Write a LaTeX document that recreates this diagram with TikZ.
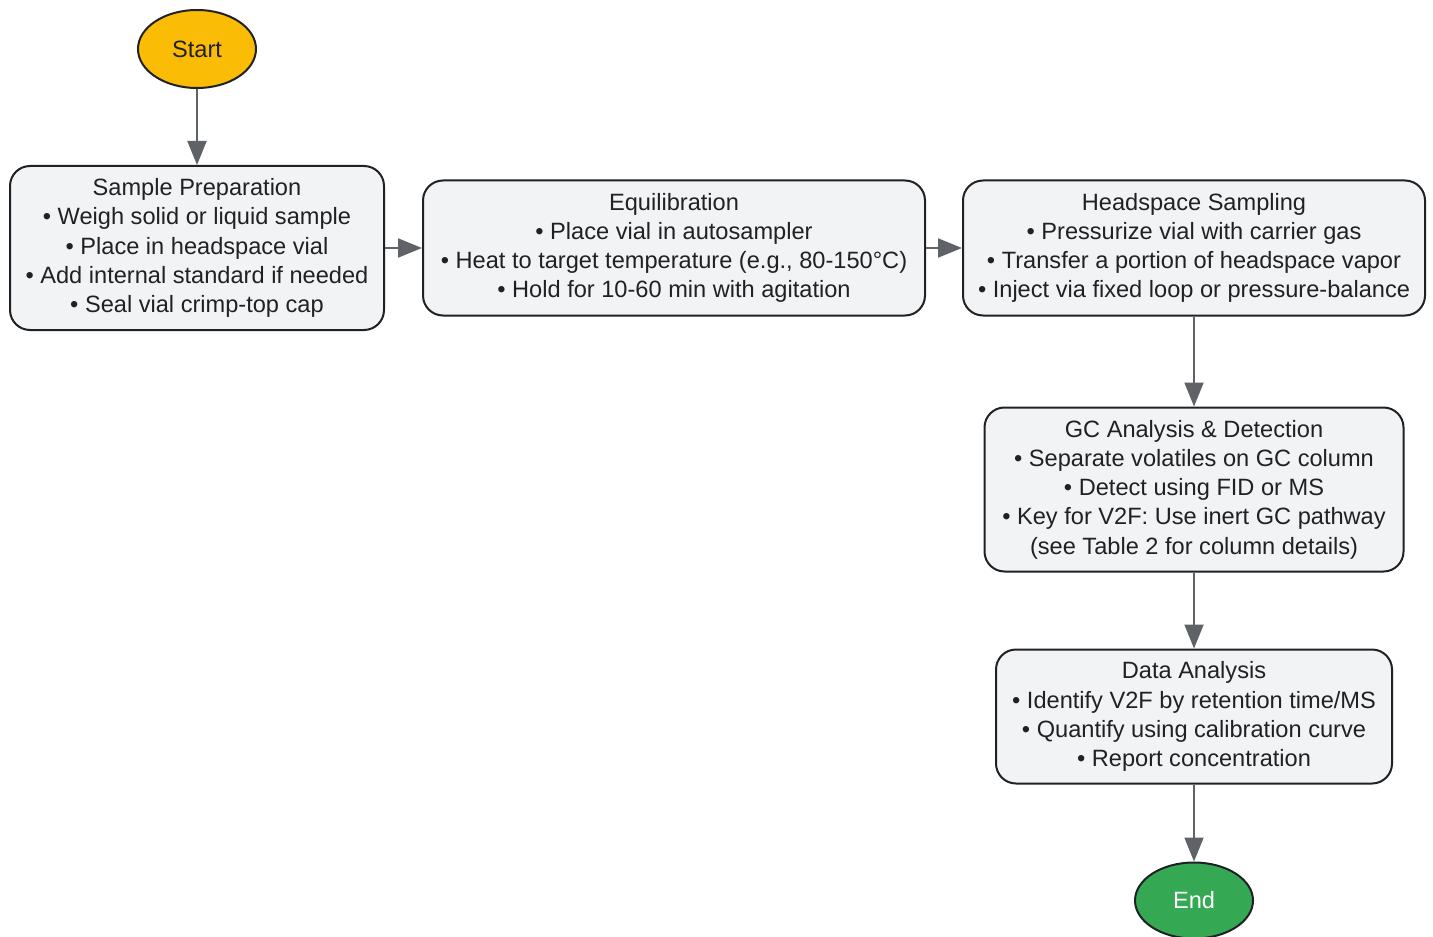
\documentclass[tikz,border=0pt]{standalone}
\usepackage{fontspec}
\setmainfont{Liberation Sans}
\usetikzlibrary{positioning,shapes.geometric,arrows.meta}
\definecolor{boxfill}{HTML}{F1F3F4}
\definecolor{inkline}{HTML}{202124}
\definecolor{flowgray}{HTML}{5F6368}
\definecolor{startfill}{HTML}{FBBC05}
\definecolor{endfill}{HTML}{34A853}

\begin{document}
\begin{tikzpicture}[
				x=0.5pt, y=-0.5pt,
				font=\fontsize{11.8}{14.6}\selectfont,
				stagebox/.style = {draw=inkline, line width=1pt, fill=boxfill, text=inkline,
					rounded corners=10pt, align=center, inner sep=0pt},
				term/.style = {draw=inkline, line width=1pt, ellipse, inner sep=0pt,
					minimum width=59pt, minimum height=39pt},
				flow/.style = {draw=flowgray, line width=1pt,
					-{Triangle[length=12pt, width=9.5pt]}}
			]
			\useasboundingbox (0,0) rectangle (1433,936);
			\node[stagebox, minimum width=187pt, minimum height=82pt] (prep) at (197,248)
				{Sample Preparation\\ \textbullet{} Weigh solid or liquid sample\\ \textbullet{} Place in headspace vial\\ \textbullet{} Add internal standard if needed\\ \textbullet{} Seal vial crimp-top cap};
			\node[term, fill=startfill, text=inkline, above=38pt of prep] (start) {Start};
			\node[stagebox, minimum width=251pt, minimum height=67.5pt] (equil) [right=18.5pt of prep]
				{Equilibration\\ \textbullet{} Place vial in autosampler\\ \textbullet{} Heat to target temperature (e.g., 80-150°C)\\ \textbullet{} Hold for 10-60 min with agitation};
			\node[stagebox, minimum width=231pt, minimum height=67.5pt] (head) [right=18pt of equil]
				{Headspace Sampling\\ \textbullet{} Pressurize vial with carrier gas\\ \textbullet{} Transfer a portion of headspace vapor\\ \textbullet{} Inject via fixed loop or pressure-balance};
			\node[stagebox, minimum width=209.5pt, minimum height=82pt] (gc) [below=45pt of head]
				{GC Analysis \& Detection\\ \textbullet{} Separate volatiles on GC column\\ \textbullet{} Detect using FID or MS\\ \textbullet{} Key for V2F: Use inert GC pathway\\ (see Table 2 for column details)};
			\node[stagebox, minimum width=198pt, minimum height=67pt] (data) [below=38pt of gc]
				{Data Analysis\\ \textbullet{} Identify V2F by retention time/MS\\ \textbullet{} Quantify using calibration curve\\ \textbullet{} Report concentration};
			\node[term, fill=endfill, text=white, minimum height=38pt, below=38.5pt of data] (end) {End};
			\draw[flow] (start) -- (prep);
			\draw[flow] (prep) -- (equil);
			\draw[flow] (equil) -- (head);
			\draw[flow] (head) -- (gc);
			\draw[flow] (gc) -- (data);
			\draw[flow] (data) -- (end);
		\end{tikzpicture}
\end{document}
